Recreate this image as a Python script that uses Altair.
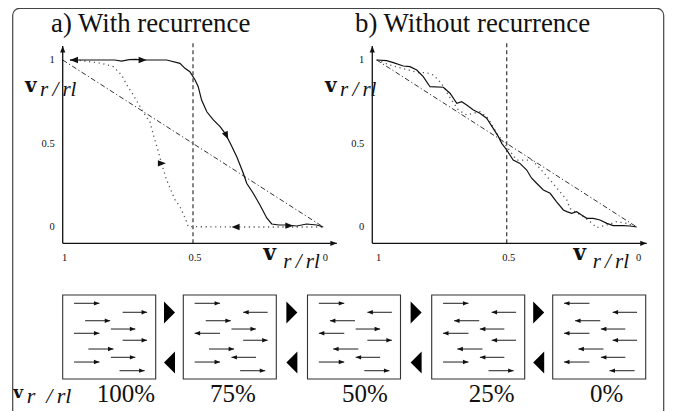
import altair as alt
import pandas as pd

# ---------------- data ----------------
tick_values = [1, 0.5, 0]
tick_labels = ["1", "0.5", "0"]

diag_x = [1, 0]
diag_y = [1, 0]

# a) with recurrence
solid_a_x = [0.972, 0.90, 0.80, 0.774, 0.745, 0.72, 0.69, 0.601, 0.55, 0.531, 0.512, 0.492, 0.480,
             0.467, 0.447, 0.422, 0.396, 0.377, 0.357, 0.332, 0.307, 0.294, 0.269, 0.243, 0.217,
             0.198, 0.170, 0.140, 0.102, 0.064, 0.025, 0.0]
solid_a_y = [1.0, 1.0, 1.0, 0.993, 1.002, 1.004, 1.0, 1.0, 0.980, 0.950, 0.930, 0.880, 0.840,
             0.760, 0.690, 0.641, 0.601, 0.561, 0.501, 0.421, 0.322, 0.262, 0.202, 0.132, 0.054,
             0.018, 0.012, 0.012, 0.006, 0.018, 0.012, 0.0]
dotted_a_x = [0.972, 0.946, 0.850, 0.806, 0.774, 0.754, 0.729, 0.703, 0.684, 0.665, 0.652, 0.633,
              0.619, 0.601, 0.582, 0.569, 0.550, 0.527, 0.518, 0.30, 0.0]
dotted_a_y = [1.0, 1.0, 0.980, 0.960, 0.910, 0.850, 0.790, 0.720, 0.671, 0.629, 0.551, 0.451,
              0.371, 0.281, 0.211, 0.162, 0.122, 0.042, 0.002, 0.0, 0.0]
heads_a_x = [0.972, 0.678, 0.365, 0.604, 0.352, 0.115]
heads_a_y = [1.0, 1.0, 0.525, 0.381, 0.0, 0.008]
heads_a_dir = [180, 0, 65, 0, 180, 0]

# b) without recurrence
solid_b_x = [1.0, 0.962, 0.936, 0.898, 0.872, 0.846, 0.821, 0.795, 0.744, 0.718, 0.692, 0.673,
             0.654, 0.628, 0.603, 0.577, 0.552, 0.532, 0.519, 0.500, 0.475, 0.449, 0.423, 0.404,
             0.385, 0.359, 0.333, 0.308, 0.282, 0.269, 0.250, 0.231, 0.212, 0.192, 0.167, 0.141,
             0.115, 0.090, 0.051, 0.026, 0.0]
solid_b_y = [1.0, 0.996, 0.984, 0.964, 0.960, 0.940, 0.900, 0.840, 0.837, 0.801, 0.741, 0.750,
             0.731, 0.701, 0.681, 0.651, 0.591, 0.541, 0.501, 0.461, 0.401, 0.381, 0.341, 0.292,
             0.262, 0.222, 0.202, 0.151, 0.102, 0.092, 0.082, 0.092, 0.072, 0.052, 0.052, 0.042,
             0.022, 0.008, 0.008, 0.006, 0.0]
dotted_b_x = [1.0, 0.949, 0.840, 0.808, 0.782, 0.757, 0.738, 0.725, 0.686, 0.654, 0.628, 0.603,
              0.577, 0.564, 0.538, 0.519, 0.462, 0.404, 0.372, 0.333, 0.295, 0.269, 0.257, 0.231,
              0.205, 0.179, 0.154, 0.115, 0.077, 0.038, 0.0]
dotted_b_y = [1.0, 0.970, 0.924, 0.924, 0.910, 0.870, 0.831, 0.790, 0.701, 0.671, 0.681, 0.690,
              0.660, 0.631, 0.561, 0.521, 0.401, 0.401, 0.351, 0.281, 0.211, 0.162, 0.112, 0.086,
              0.062, 0.032, -0.004, 0.012, 0.032, 0.022, 0.0]

# bottom row: arrows in each box (fractions of the box) and their directions (+1 right, -1 left)
box_labels = ["100%", "75%", "50%", "25%", "0%"]
arrow_fx0 = [0.122, 0.644, 0.241, 0.518, 0.122, 0.644, 0.276, 0.518, 0.122, 0.611]
arrow_fx1 = [0.395, 0.907, 0.511, 0.781, 0.395, 0.907, 0.546, 0.781, 0.395, 0.881]
arrow_fy = [0.099, 0.206, 0.306, 0.405, 0.456, 0.539, 0.643, 0.742, 0.798, 0.901]
box_dirs = [
    [1, 1, 1, 1, 1, 1, 1, 1, 1, 1],
    [1, -1, 1, 1, -1, 1, 1, -1, 1, 1],
    [1, -1, -1, 1, -1, 1, -1, -1, 1, 1],
    [1, -1, -1, -1, -1, -1, -1, -1, 1, 1],
    [-1, -1, -1, -1, -1, -1, -1, -1, -1, -1],
]

# ---------------- layout / style ----------------
FONT = "Liberation Serif"
VFONT = "DejaVu Serif"
W, H = 659, 403
HEAD = "M0,0L-2,-0.8L-2,0.8Z"          # arrow head, tip at origin, pointing right
BIG_TRI = "M-0.5,-1L0.5,0L-0.5,1Z"     # big triangle between boxes
INK = "#111"

Y_RANGE = [219, 52]  # chart px of y=0 / y=1

PANELS = {
    "a": dict(xr=[315.3, 54.7], yaxis_x=1.0, xaxis_y=-0.098, ytop=1.084, xend=-0.052, dtop=1.102),
    "b": dict(xr=[628.7, 368.7], yaxis_x=1.017, xaxis_y=-0.098, ytop=1.084, xend=-0.0385, dtop=1.10),
}


def df_xy(xs, ys):
    return pd.DataFrame({"x": xs, "y": ys, "i": list(range(len(xs)))})


def panel(key, sx, sy, dx_, dy_, heads=None):
    p = PANELS[key]
    xs = alt.Scale(domain=[0, 1], range=p["xr"], zero=False, nice=False)
    ys = alt.Scale(domain=[0, 1], range=Y_RANGE, zero=False, nice=False)
    X = lambda f="x": alt.X(f"{f}:Q", scale=xs, axis=None)
    Y = lambda f="y": alt.Y(f"{f}:Q", scale=ys, axis=None)

    axes = pd.DataFrame({"x": [p["yaxis_x"]], "y": [p["xaxis_y"]],
                         "ytop": [p["ytop"]], "xend": [p["xend"]]})
    yaxis = alt.Chart(axes).mark_rule(color=INK, strokeWidth=1.3).encode(
        x=X(), y=Y(), y2="ytop:Q")
    xaxis = alt.Chart(axes).mark_rule(color=INK, strokeWidth=1.3).encode(
        x=X(), x2="xend:Q", y=Y())
    ax_heads = pd.DataFrame({"x": [p["yaxis_x"], p["xend"]],
                             "y": [p["ytop"], p["xaxis_y"]], "a": [270, 0]})
    axis_heads = alt.Chart(ax_heads).mark_point(
        shape=HEAD, filled=True, color=INK, size=42, opacity=1).encode(
        x=X(), y=Y(), angle=alt.Angle("a:Q", scale=None))

    dash = pd.DataFrame({"x": [0.5], "y": [p["xaxis_y"]], "top": [p["dtop"]]})
    vdash = alt.Chart(dash).mark_rule(color="#444", strokeWidth=1.3, strokeDash=[4, 3]).encode(
        x=X(), y=Y(), y2="top:Q")

    diag = alt.Chart(df_xy(diag_x, diag_y)).mark_line(
        color="#333", strokeWidth=1, strokeDash=[5, 2.5, 1.2, 2.5]).encode(
        x=X(), y=Y(), order="i:Q")
    dotted = alt.Chart(df_xy(dx_, dy_)).mark_line(
        color="#555", strokeWidth=1.3, strokeDash=[1.2, 3.6]).encode(
        x=X(), y=Y(), order="i:Q")
    solid = alt.Chart(df_xy(sx, sy)).mark_line(color=INK, strokeWidth=1.2).encode(
        x=X(), y=Y(), order="i:Q")

    ylab = pd.DataFrame({"x": [p["yaxis_x"]] * 3, "y": tick_values, "t": tick_labels})
    ylabels = alt.Chart(ylab).mark_text(
        font=FONT, fontSize=10.5, align="right", baseline="middle", dx=-8, color=INK).encode(
        x=X(), y=Y(), text="t:N")
    xlab = pd.DataFrame({"x": tick_values, "y": [p["xaxis_y"]] * 3, "t": tick_labels})
    xlabels = alt.Chart(xlab).mark_text(
        font=FONT, fontSize=10.5, align="center", baseline="alphabetic", dx=2, dy=18,
        color=INK).encode(x=X(), y=Y(), text="t:N")

    layers = [vdash, diag, dotted, solid, yaxis, xaxis, axis_heads, ylabels, xlabels]
    if heads is not None:
        hd = pd.DataFrame({"x": heads[0], "y": heads[1], "a": heads[2]})
        layers.append(alt.Chart(hd).mark_point(
            shape=HEAD, filled=True, color=INK, size=64, opacity=1).encode(
            x=X(), y=Y(), angle=alt.Angle("a:Q", scale=None)))
    return alt.layer(*layers)


panel_a = panel("a", solid_a_x, solid_a_y, dotted_a_x, dotted_a_y,
                heads=(heads_a_x, heads_a_y, heads_a_dir))
panel_b = panel("b", solid_b_x, solid_b_y, dotted_b_x, dotted_b_y)

# ---------------- canvas layer (page coordinates) ----------------
cx = alt.Scale(domain=[8, 8 + W], range=[0, W], zero=False, nice=False)
cy = alt.Scale(domain=[8, 8 + H], range=[0, H], zero=False, nice=False)
CX = lambda f="x": alt.X(f"{f}:Q", scale=cx, axis=None)
CY = lambda f="y": alt.Y(f"{f}:Q", scale=cy, axis=None)

BOX_LEFT = [62.7, 183.3, 307.5, 431.7, 552.7]
BOX_W, BOX_TOP, BOX_H = 93.0, 295.0, 84.0
LABEL_X = [126, 233, 365, 491.7, 606.7]

border = alt.Chart(pd.DataFrame({"x": [12.7], "x2": [663.7], "y": [8.3], "y2": [440]})).mark_rect(
    filled=False, color="#444", strokeWidth=1.2, cornerRadius=7).encode(
    x=CX(), x2="x2:Q", y=CY(), y2="y2:Q")

boxes_df = pd.DataFrame({"x": BOX_LEFT, "x2": [b + BOX_W for b in BOX_LEFT],
                         "y": [BOX_TOP] * 5, "y2": [BOX_TOP + BOX_H] * 5})
boxes = alt.Chart(boxes_df).mark_rect(filled=False, color="#333", strokeWidth=1.1).encode(
    x=CX(), x2="x2:Q", y=CY(), y2="y2:Q")

rows = []
for b, left in enumerate(BOX_LEFT):
    for j in range(len(arrow_fy)):
        x0 = left + arrow_fx0[j] * BOX_W
        x1 = left + arrow_fx1[j] * BOX_W
        d = box_dirs[b][j]
        rows.append({"x": x0, "x2": x1, "y": BOX_TOP + arrow_fy[j] * BOX_H,
                     "tip": x1 if d > 0 else x0, "a": 0 if d > 0 else 180})
arr = pd.DataFrame(rows)
arrow_lines = alt.Chart(arr).mark_rule(color="#333", strokeWidth=1.1).encode(
    x=CX(), x2="x2:Q", y=CY())
arrow_heads = alt.Chart(arr).mark_point(shape=HEAD, filled=True, color=INK, size=30, opacity=1).encode(
    x=CX("tip"), y=CY(), angle=alt.Angle("a:Q", scale=None))

tri_rows = []
for b in range(len(BOX_LEFT) - 1):
    mid = (BOX_LEFT[b] + BOX_W + BOX_LEFT[b + 1]) / 2
    tri_rows.append({"x": mid, "y": 312.5, "a": 0})
    tri_rows.append({"x": mid, "y": 362.5, "a": 180})
tris = alt.Chart(pd.DataFrame(tri_rows)).mark_point(
    shape=BIG_TRI, filled=True, color="black", size=484, opacity=1).encode(
    x=CX(), y=CY(), angle=alt.Angle("a:Q", scale=None))


def texts(df, **kw):
    base = dict(align="left", baseline="alphabetic", color=INK)
    base.update(kw)
    return alt.Chart(df).mark_text(**base).encode(
        x=CX(), y=CY(), text="t:N", size=alt.Size("s:Q", scale=None))


titles = texts(pd.DataFrame({"t": ["a) With recurrence", "b) Without recurrence"],
                             "x": [51, 355], "y": [32, 32], "s": [26.8, 26.8]}), font=FONT)
pct = texts(pd.DataFrame({"t": box_labels, "x": LABEL_X, "y": [401.5] * 5, "s": [25] * 5}),
            font=FONT, align="center")
vs = texts(pd.DataFrame({"t": ["v"] * 5,
                         "x": [25, 325, 263.3, 573.3, 13.3],
                         "y": [91.7, 91.7, 260, 260, 398.3],
                         "s": [20, 20, 22, 22, 17]}), font=VFONT, fontWeight="bold")
subs = texts(pd.DataFrame({"t": ["r\u2009/\u2009rl"] * 4 + ["r\u2002/\u2009rl"],
                           "x": [40, 340, 283.3, 592.7, 26.7],
                           "y": [95.5, 95.5, 268.3, 268.0, 403.0],
                           "s": [21, 21, 21, 21, 22]}), font=FONT, fontStyle="italic")

canvas = alt.layer(border, boxes, arrow_lines, arrow_heads, tris, titles, pct, vs, subs)

chart = alt.layer(panel_a, panel_b, canvas).resolve_scale(
    x="independent", y="independent"
).properties(
    width=W, height=H, padding=0, autosize=alt.AutoSizeParams(type="none"),
    background="white",
).configure_view(strokeWidth=0)

chart.save("out.html", embed_options={"renderer": "svg", "actions": False})
